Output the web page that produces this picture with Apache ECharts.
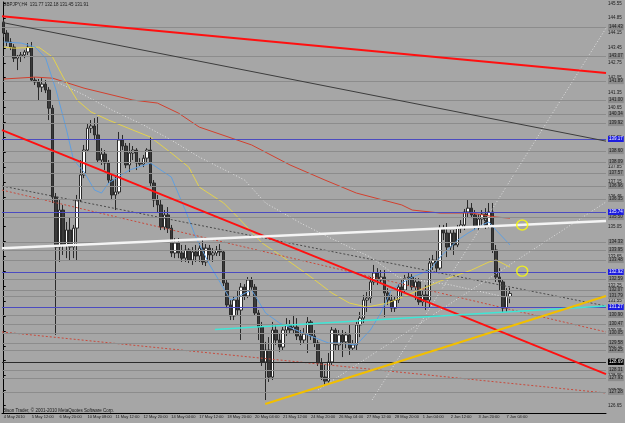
<!DOCTYPE html>
<html>
<head>
<meta charset="utf-8">
<script src="https://cdn.jsdelivr.net/npm/echarts@6/dist/echarts.min.js"></script>
<style>
html, body { margin: 0; padding: 0; background: #a6a6a6; }
#main { width: 625px; height: 423px; }
</style>
</head>
<body>
<div id="main"></div>
<script>
/* GBPJPY H4, 4 May - 7 Jun 2010 */

// time labels under the chart, one every 8 bars
var xLabels = ['4 May 2010', '5 May 12:00', '6 May 20:00', '10 May 08:00', '11 May 12:00',
	'12 May 20:00', '14 May 04:00', '17 May 12:00', '18 May 20:00', '20 May 04:00',
	'21 May 12:00', '24 May 20:00', '26 May 04:00', '27 May 12:00', '28 May 20:00',
	'1 Jun 04:00', '2 Jun 12:00', '3 Jun 20:00', '7 Jun 04:00'];

// price scale labels
var yTicks = [145.55, 144.85, 144.15, 143.45, 142.75, 142.05, 141.35, 140.65, 139.95, 139.25,
	138.55, 137.85, 137.15, 136.45, 135.75, 135.05, 134.35, 133.65, 132.95, 132.25,
	131.55, 130.85, 130.15, 129.45, 128.75, 128.05, 127.35, 126.65];

// open, close, low, high
var candles = [
	[144.67,144.15,143.96,144.76],[144.15,143.73,143.54,144.29],[143.73,143.49,143.35,143.91],[143.49,142.97,142.79,143.63],
	[142.97,143.07,142.41,143.12],[143.07,143.12,142.79,143.26],[143.12,143.26,142.97,143.35],[143.26,143.49,143.12,143.68],
	[143.49,141.94,141.85,143.73],[141.94,141.85,141.71,142.08],[141.85,141.61,141.00,141.99],[141.61,141.75,141.38,142.03],
	[141.75,141.47,141.33,141.94],[141.47,140.62,140.06,141.61],[140.62,136.44,136.16,140.77],[136.44,134.09,129.96,136.63],
	[134.09,135.83,133.39,136.30],[135.83,134.19,133.72,136.07],[134.19,134.89,133.57,135.27],[134.89,134.09,133.48,135.50],
	[134.09,134.98,133.57,135.13],[134.98,136.30,133.48,136.54],[136.30,137.48,136.21,138.18],[137.48,138.65,137.33,138.89],
	[138.65,139.68,138.56,139.92],[139.68,139.78,139.45,140.06],[139.78,139.36,139.12,140.15],[139.36,138.18,138.04,140.20],
	[138.18,138.46,137.95,138.74],[138.46,138.04,137.71,138.65],[138.04,137.24,137.10,138.18],[137.24,136.54,136.30,137.57],
	[136.54,136.68,135.83,137.38],[136.68,139.12,136.58,139.50],[139.12,138.84,138.65,139.36],[138.84,137.95,137.80,138.98],
	[137.95,138.51,137.62,138.98],[138.51,138.65,138.18,138.84],[138.65,138.04,137.71,138.74],[138.04,137.99,137.90,138.27],
	[137.99,138.27,137.85,138.42],[138.27,138.65,138.04,138.74],[138.65,137.10,136.91,139.26],[137.10,136.30,135.97,137.24],
	[136.30,136.07,135.74,136.54],[136.07,135.03,134.89,136.30],[135.03,135.60,134.89,135.83],[135.60,134.98,134.75,135.97],
	[134.98,133.81,133.62,135.13],[133.81,134.28,133.57,134.51],[134.28,133.81,133.57,134.51],[133.81,133.57,133.39,134.19],
	[133.57,133.95,133.39,134.19],[133.95,133.48,133.34,134.04],[133.48,133.86,133.25,134.09],[133.86,133.67,133.39,134.19],
	[133.67,134.04,133.39,134.28],[134.04,133.39,133.25,134.42],[133.39,134.04,133.20,134.23],[134.04,133.72,133.48,134.19],
	[133.72,133.81,133.39,134.04],[133.81,133.95,133.67,134.14],[133.95,133.86,133.67,134.23],[133.86,132.40,132.26,133.95],
	[132.40,131.37,131.22,132.54],[131.37,130.85,130.66,131.60],[130.85,131.60,130.66,131.79],[131.60,131.13,130.90,132.07],
	[131.13,132.21,129.72,132.40],[132.21,131.79,131.60,132.35],[131.79,132.54,131.69,132.68],[132.54,132.21,132.07,132.68],
	[132.21,130.99,130.85,132.35],[130.99,130.33,129.72,131.13],[130.33,128.69,128.50,130.57],[128.69,129.25,126.90,129.63],
	[129.25,127.98,127.75,129.86],[127.98,130.19,127.84,130.57],[130.19,129.72,129.49,130.43],[129.72,129.39,129.16,130.05],
	[129.39,130.19,129.25,130.33],[130.19,130.43,129.91,130.75],[130.43,130.19,130.00,130.66],[130.19,130.33,130.00,130.90],
	[130.33,129.91,129.72,130.75],[129.91,129.72,129.49,130.19],[129.72,130.00,129.58,130.28],[130.00,130.57,129.11,130.80],
	[130.57,129.91,129.72,130.66],[129.91,129.58,129.39,130.19],[129.58,128.64,128.50,129.72],[128.64,127.98,127.84,128.87],
	[127.98,127.79,127.56,128.55],[127.79,128.69,127.65,129.11],[128.69,130.19,128.55,130.33],[130.19,129.49,129.25,130.28],
	[129.49,129.96,129.25,130.19],[129.96,129.63,128.92,130.19],[129.63,129.96,129.34,130.10],[129.96,129.34,129.02,130.43],
	[129.34,129.49,129.25,129.72],[129.49,130.43,129.25,130.57],[130.43,130.75,129.86,131.04],[130.75,131.60,130.52,131.84],
	[131.60,131.69,131.04,131.98],[131.69,132.45,131.46,132.68],[132.45,132.87,132.31,133.25],[132.87,132.54,132.31,133.10],
	[132.54,132.68,132.40,133.01],[132.68,131.93,130.80,133.01],[131.93,131.60,131.37,132.16],[131.60,131.22,131.04,131.84],
	[131.22,131.60,131.04,131.79],[131.60,132.21,131.46,132.35],[132.21,132.07,131.79,132.54],[132.07,132.63,131.93,132.78],
	[132.63,132.68,132.26,132.87],[132.68,132.21,132.07,132.82],[132.21,132.45,131.60,132.63],[132.45,131.51,131.37,132.63],
	[131.51,131.84,131.32,132.07],[131.84,131.60,131.13,132.31],[131.60,133.34,131.27,133.57],[133.34,133.48,133.01,133.72],
	[133.48,133.10,132.92,133.95],[133.10,134.98,133.01,135.13],[134.98,134.75,134.42,135.13],[134.75,134.09,133.62,135.22],
	[134.09,134.75,133.95,134.89],[134.75,134.19,133.72,134.89],[134.19,134.98,134.09,135.13],[134.98,135.13,134.75,135.36],
	[135.13,135.74,134.89,135.88],[135.74,135.92,135.50,136.30],[135.92,135.60,135.45,136.16],[135.60,135.03,134.89,135.83],
	[135.03,135.41,134.89,135.64],[135.41,135.64,135.08,135.83],[135.64,135.08,134.94,135.92],[135.08,135.74,134.98,136.16],
	[135.74,133.95,133.81,136.16],[133.95,132.68,132.45,134.19],[132.68,132.45,132.07,133.10],[132.45,131.22,130.99,132.54],
	[131.22,131.77,131.04,132.16],[131.77,131.91,131.45,132.18]
];

// moving averages [bar, price]
var blueMA = [[0,143.73],[5,143.68],[9,143.49],[12,142.97],[15,141.47],[18,139.59],[20,138.18],[23,137.62],
	[26,136.77],[28,136.63],[30,137.10],[36,137.71],[42,138.04],[48,137.38],[52,135.83],[55,134.56],
	[59,133.25],[65,131.60],[71,132.07],[75,130.99],[79,130.52],[85,130.10],[93,129.58],[96,129.58],
	[101,129.49],[105,130.19],[108,130.99],[111,132.07],[113,132.31],[117,132.68],[122,133.01],[125,133.62],
	[130,134.42],[133,134.75],[137,135.13],[139,135.27],[141,134.89],[145,134.19]];
var yellowMA = [[0,143.49],[3,143.44],[10,143.49],[14,143.02],[17,142.08],[21,141.00],[25,140.44],[30,140.06],
	[37,139.59],[42,139.26],[48,138.51],[53,137.85],[56,136.91],[63,136.16],[67,135.50],[74,134.28],
	[80,133.62],[88,132.68],[94,131.93],[99,131.46],[104,131.27],[110,131.46],[117,131.93],[125,132.49],
	[134,133.01],[139,133.39],[141,133.48],[145,133.15]];
var redMA = [[0,141.99],[9,142.08],[14,142.03],[23,141.56],[31,141.24],[37,141.00],[44,140.86],[50,140.39],
	[56,139.73],[71,138.89],[82,137.95],[92,137.24],[101,136.63],[114,136.07],[117,135.83],[125,135.69],
	[134,135.69],[141,135.50],[145,135.45]];
var whiteMA = [[14,141.94],[23,141.24],[31,140.53],[40,139.83],[48,139.12],[56,138.32],[69,137.24],[75,136.16],
	[85,135.22],[93,134.56],[99,134.09],[105,133.62],[113,132.68],[128,132.31],[145,131.69]];

// drawn trend lines [bar, price]
var redTop = [[-0.5,144.94],[172.5,142.27]];
var greyTop = [[-0.5,144.65],[172.5,139.07]];
var redMid = [[-0.5,139.59],[172.5,128.12]];
var whiteLine = [[-0.5,134.04],[172.5,135.31]];
var goldLine = [[74.9,126.71],[172.5,131.79]];
var cyanLine = [[60.5,130.22],[172.5,131.32]];
var greyDash = [[-0.5,136.96],[172.5,131.32]];
var redDot1 = [[-0.5,136.77],[172.5,130.10]];
var redDot2 = [[-0.5,130.10],[172.5,127.23]];
var lightDot1 = [[105.5,126.90],[172.5,144.38]];
var lightDot2 = [[90.0,127.37],[172.5,136.21]];

// horizontal levels
var greyLevels = [144.43,143.07,141.89,141.00,140.34,139.92,138.60,138.09,137.57,136.96,136.35,135.50,
	134.33,133.95,133.48,132.59,132.07,131.79,130.90,130.47,130.05,129.58,129.25,128.31,127.93,127.28];
var blueLevels = [139.17,135.74,132.92,131.27];
var blackLevels = [128.69];

var circles = [[148.5,135.13],[148.5,132.96]];

var font = 'Liberation Sans';
var nBars = 173;
var categories = [];
for (var i = 0; i < nBars; i++) categories.push(String(i));

function level(v, lineColor, box, txt) {
	return {
		yAxis: v,
		lineStyle: { color: lineColor, width: 1, type: 'solid' },
		label: {
			show: true, position: 'end', distance: 2,
			formatter: v.toFixed(2),
			fontSize: 4.5, fontFamily: font, color: txt,
			backgroundColor: box, padding: [1, 1, 0, 1]
		}
	};
}

var levelData = [];
greyLevels.forEach(function (v) { levelData.push(level(v, '#8c8c8c', '#8c8c8c', '#1a1a1a')); });
blueLevels.forEach(function (v) { levelData.push(level(v, '#4b4bc0', '#1c1ce0', '#ffffff')); });
blackLevels.forEach(function (v) { levelData.push(level(v, '#2a2a2a', '#000000', '#ffffff')); });

function lineSeries(data, color, width, type, z) {
	return {
		type: 'line', xAxisIndex: 1, yAxisIndex: 0, data: data,
		showSymbol: false, symbol: 'none', silent: true, z: z,
		lineStyle: { color: color, width: width, type: type }
	};
}

var chart = echarts.init(document.getElementById('main'));
chart.setOption({
	animation: false,
	backgroundColor: '#a6a6a6',
	title: {
		text: 'GBPJPY,H4  131.77 132.18 131.45 131.91',
		left: 3, top: 2, padding: 0,
		textStyle: { fontSize: 4.5, fontWeight: 'normal', color: '#1a1a1a', fontFamily: font }
	},
	graphic: [{
		type: 'text', left: 3, top: 408,
		style: { text: 'Bison Trader, © 2001-2010 MetaQuotes Software Corp.', fontSize: 4.5, fill: '#1a1a1a', fontFamily: font }
	}],
	grid: { left: 2, right: 19, top: 2, bottom: 10 },
	xAxis: [{
		type: 'category', data: categories, boundaryGap: true,
		axisLine: { lineStyle: { color: '#000', width: 1 } },
		axisTick: {
			alignWithLabel: true, length: 2, lineStyle: { color: '#000' },
			interval: function (idx) { return idx % 8 === 0 && idx <= 144; }
		},
		axisLabel: {
			interval: function (idx) { return idx % 8 === 0 && idx <= 144; },
			formatter: function (val, idx) { return xLabels[idx / 8] || ''; },
			align: 'left', margin: 2, fontSize: 4, color: '#1a1a1a', fontFamily: font
		},
		splitLine: { show: false }
	}, {
		type: 'value', min: -0.5, max: 172.5, show: false
	}],
	yAxis: {
		type: 'value', position: 'right', min: 126.29, max: 145.61, scale: true,
		axisLine: { show: true, lineStyle: { color: '#000', width: 1 } },
		axisTick: { show: true, length: 2, customValues: yTicks, lineStyle: { color: '#000' } },
		axisLabel: {
			customValues: yTicks, margin: 2, fontSize: 4.5, color: '#1a1a1a', fontFamily: font,
			formatter: function (v) { return v.toFixed(2); }
		},
		splitLine: { show: false }
	},
	series: [
		{
			type: 'line', xAxisIndex: 1, yAxisIndex: 0, data: [], z: 1, silent: true,
			markLine: { symbol: ['none', 'none'], silent: true, animation: false, data: levelData }
		},
		{
			type: 'candlestick', xAxisIndex: 0, yAxisIndex: 0, data: candles, z: 2,
			barWidth: 3,
			itemStyle: {
				color: '#ffffff', color0: '#3a3a3a',
				borderColor: '#2a2a2a', borderColor0: '#2a2a2a', borderWidth: 1
			}
		},
		lineSeries(redMA, '#d2402e', 1, 'solid', 3),
		lineSeries(whiteMA, '#e2e2e2', 1, [1, 2], 3),
		lineSeries(yellowMA, '#e4d24c', 1, 'solid', 3),
		lineSeries(blueMA, '#5f9fe0', 1, 'solid', 3),
		lineSeries(greyDash, '#4a4a4a', 1, [2, 2], 4),
		lineSeries(redDot1, '#c84a3c', 1, [2, 2], 4),
		lineSeries(redDot2, '#c84a3c', 1, [2, 2], 4),
		lineSeries(lightDot1, '#dedede', 1, [1, 2], 4),
		lineSeries(lightDot2, '#dedede', 1, [1, 2], 4),
		lineSeries(greyTop, '#3c3c3c', 1, 'solid', 5),
		lineSeries(redTop, '#ff1010', 2, 'solid', 5),
		lineSeries(redMid, '#ff1010', 2, 'solid', 5),
		lineSeries(cyanLine, '#3ee6d6', 1.5, 'solid', 5),
		lineSeries(goldLine, '#f2bf00', 2, 'solid', 5),
		lineSeries(whiteLine, '#f4f4f4', 2.5, 'solid', 5),
		{
			type: 'scatter', xAxisIndex: 1, yAxisIndex: 0, data: circles, z: 6, silent: true,
			symbol: 'circle', symbolSize: [11, 10],
			itemStyle: { color: 'rgba(0,0,0,0)', borderColor: '#ffff00', borderWidth: 1.5 }
		}
	]
});
</script>
</body>
</html>
